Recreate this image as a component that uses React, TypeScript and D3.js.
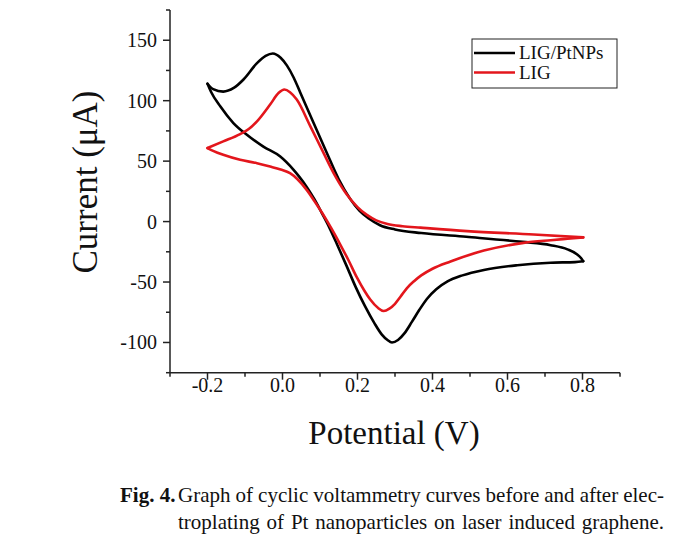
import React, { useRef, useLayoutEffect, useState } from "react";
import * as d3 from "d3";

const W = 697;
const H = 548;

const seriesNames = ["LIG/PtNPs", "LIG"];
const seriesColors = ["#000000", "#e3161c"];

// LIG/PtNPs: forward (upper) branch from -0.2 V to 0.8 V, then return (lower) branch back to -0.2 V
const potentialPt = [
  -0.2, -0.185, -0.158, -0.13, -0.104, -0.068, -0.045, -0.026, -0.005, 0.012, 0.03, 0.047, 0.083, 0.118,
  0.15, 0.18, 0.205, 0.23, 0.26, 0.3, 0.37, 0.49, 0.64, 0.715, 0.76, 0.785, 0.797, 0.802,
  0.78, 0.715, 0.626, 0.537, 0.48, 0.44, 0.41, 0.385, 0.365, 0.345, 0.325, 0.308, 0.292, 0.28, 0.265,
  0.245, 0.22, 0.195, 0.17, 0.145, 0.125, 0.105, 0.085, 0.065, 0.045, 0.029, -0.006, -0.051, -0.095,
  -0.131, -0.166, -0.19, -0.2,
];
const currentPt = [
  114, 109.5, 107.5, 110.5, 117.5, 131, 137, 139, 135.5, 129, 119, 107, 81.5, 57,
  35, 19, 9, 2.5, -3, -6.5, -9.5, -12.6, -16.8, -19.5, -23, -27, -30.5, -32.8,
  -33.5, -34, -36.1, -40, -44.5, -49.5, -56, -64, -73, -83, -92.5, -98, -100, -98, -93.5,
  -84, -70, -54, -36, -18.5, -5, 7, 18.5, 28.5, 37, 43, 53.8, 62, 71.8,
  81.5, 95.3, 107, 114,
];

// LIG
const potentialLig = [
  -0.2, -0.158, -0.113, -0.09, -0.068, -0.033, -0.01, 0.005, 0.02, 0.038, 0.074, 0.109, 0.14, 0.17,
  0.2, 0.225, 0.25, 0.28, 0.32, 0.368, 0.492, 0.67, 0.802,
  0.76, 0.715, 0.643, 0.537, 0.448, 0.4, 0.37, 0.35, 0.332, 0.315, 0.3, 0.285, 0.27, 0.255, 0.234,
  0.218, 0.198, 0.176, 0.154, 0.13, 0.105, 0.085, 0.065, 0.04, 0.02, -0.005, -0.033, -0.068, -0.113,
  -0.158, -0.185, -0.2,
];
const currentLig = [
  60.8, 66.3, 72.4, 76.5, 82.9, 96.8, 106.5, 109.2, 107, 100.9, 79, 57, 38, 23,
  12, 5.5, 1, -2, -3.8, -5, -7.9, -10.7, -13.1,
  -14.2, -15.4, -17.6, -24, -33, -39, -44.5, -49.5, -55, -62, -68, -72, -74, -71.5, -64.5,
  -57, -46, -32, -19, -5.5, 7.5, 17, 26, 35, 40, 43, 45.5, 48.3, 51.1,
  55.2, 58.5, 60.8,
];

const xMajorTicks = [-0.2, 0.0, 0.2, 0.4, 0.6, 0.8];
const xMinorTicks = [-0.3, -0.1, 0.1, 0.3, 0.5, 0.7, 0.9];
const yMajorTicks = [-100, -50, 0, 50, 100, 150];
const yMinorTicks = [-125, -75, -25, 25, 75, 125, 175];

const xTitle = "Potential (V)";
const yTitle = "Current (\u03bcA)";
const captionLabel = "Fig. 4.";
const captionLines = [
  "Graph of cyclic voltammetry curves before and after elec-",
  "troplating of Pt nanoparticles on laser induced graphene.",
];

const FONT = "'Liberation Serif', 'Times New Roman', serif";

function JustifiedLine({ x, y, width, text, fontSize }: { x: number; y: number; width: number; text: string; fontSize: number }) {
  const ref = useRef<SVGTextElement>(null);
  const [ws, setWs] = useState(0);
  useLayoutEffect(() => {
    const el = ref.current;
    if (!el) return;
    const len = el.getComputedTextLength();
    const n = (text.match(/ /g) || []).length;
    setWs(n ? (width - len) / n : 0);
  }, [text, width]);
  return (
    <text ref={ref} x={x} y={y} fontSize={fontSize} fontFamily={FONT} fill="#111" wordSpacing={ws} style={{ whiteSpace: "pre" }}>
      {text}
    </text>
  );
}

// split a closed CV loop into its forward and return branches (both as ascending-x lists)
function branches(pot: number[], cur: number[]): [number, number][][] {
  const pts = pot.map((p, i) => [p, cur[i]] as [number, number]);
  const iMax = pot.indexOf(d3.max(pot) as number);
  const fwd = pts.slice(0, iMax + 1);
  const ret = pts.slice(iMax).reverse();
  return [fwd, ret];
}

export default function App() {
  const x = d3.scaleLinear().domain([-0.3, 0.9]).range([170, 620]);
  const y = d3.scaleLinear().domain([-125, 175]).range([372.7, 10]);

  const line = d3
    .line<[number, number]>()
    .x((d) => x(d[0]))
    .y((d) => y(d[1]))
    .curve(d3.curveMonotoneX);

  const series = [branches(potentialPt, currentPt), branches(potentialLig, currentLig)];

  const axisColor = "#222";
  const x0 = x(-0.3);
  const y0 = y(-125);

  return (
    <svg width={W} height={H} style={{ position: "absolute", left: 0, top: 0, background: "#fff" }}>
      {/* curves */}
      {series.map((br, i) =>
        br.map((d, j) => (
          <path key={i + "-" + j} d={line(d) || ""} fill="none" stroke={seriesColors[i]} strokeWidth={2.6} strokeLinejoin="round" strokeLinecap="round" />
        ))
      )}

      {/* y axis */}
      <line x1={x0} x2={x0} y1={y(175)} y2={y0} stroke={axisColor} strokeWidth={1.5} />
      {yMajorTicks.map((t) => (
        <g key={"ym" + t}>
          <line x1={x0 - 7} x2={x0} y1={y(t)} y2={y(t)} stroke={axisColor} strokeWidth={1.5} />
          <text x={x0 - 13} y={y(t)} dy="0.35em" textAnchor="end" fontSize={20} fontFamily={FONT} fill="#111">
            {t}
          </text>
        </g>
      ))}
      {yMinorTicks.map((t) => (
        <line key={"yn" + t} x1={x0 - 4} x2={x0} y1={y(t)} y2={y(t)} stroke={axisColor} strokeWidth={1.5} />
      ))}

      {/* x axis */}
      <line x1={x0} x2={x(0.9)} y1={y0} y2={y0} stroke={axisColor} strokeWidth={1.5} />
      {xMajorTicks.map((t) => (
        <g key={"xm" + t}>
          <line x1={x(t)} x2={x(t)} y1={y0} y2={y0 + 7} stroke={axisColor} strokeWidth={1.5} />
          <text x={x(t)} y={392} textAnchor="middle" fontSize={20} fontFamily={FONT} fill="#111">
            {t.toFixed(1)}
          </text>
        </g>
      ))}
      {xMinorTicks.map((t) => (
        <line key={"xn" + t} x1={x(t)} x2={x(t)} y1={y0} y2={y0 + 4} stroke={axisColor} strokeWidth={1.5} />
      ))}

      {/* axis titles */}
      <text x={394} y={444} textAnchor="middle" fontSize={33} fontFamily={FONT} fill="#111">
        {xTitle}
      </text>
      <text transform={`translate(97,182) rotate(-90)`} textAnchor="middle" fontSize={35} fontFamily={FONT} fill="#111">
        {yTitle}
      </text>

      {/* legend */}
      <rect x={472} y={39} width={145} height={49} fill="#fff" stroke="#222" strokeWidth={1} />
      {seriesNames.map((name, i) => (
        <g key={name}>
          <line x1={474} x2={515} y1={53 + i * 19.5} y2={53 + i * 19.5} stroke={seriesColors[i]} strokeWidth={2.6} />
          <text x={519} y={53 + i * 19.5} dy="0.33em" fontSize={19} fontFamily={FONT} fill="#111">
            {name}
          </text>
        </g>
      ))}

      {/* caption */}
      <text x={120} y={502} fontSize={21} fontWeight="bold" fontFamily={FONT} fill="#111">
        {captionLabel}
      </text>
      <JustifiedLine x={178} y={502} width={486} text={captionLines[0]} fontSize={21} />
      <JustifiedLine x={178} y={529} width={486} text={captionLines[1]} fontSize={21} />
    </svg>
  );
}
